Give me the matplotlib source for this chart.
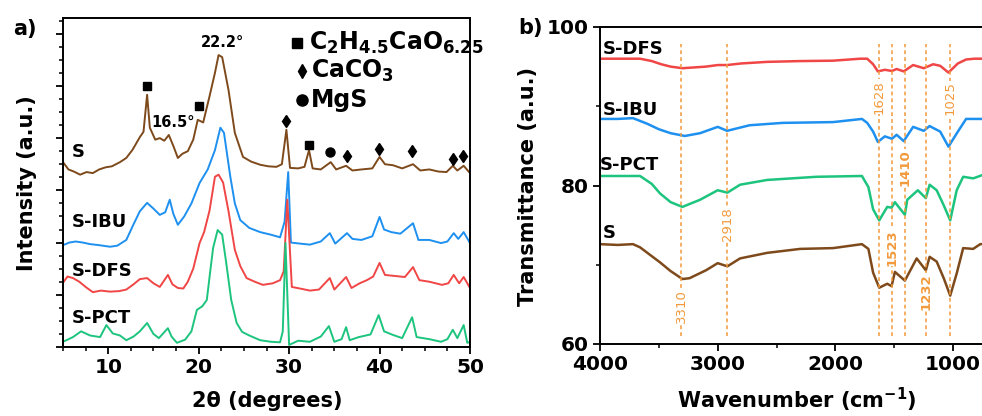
import matplotlib
matplotlib.use("Agg")
import matplotlib.pyplot as plt
from matplotlib.ticker import MultipleLocator

# ---------------- XRD data (2theta in degrees, intensity a.u. offset) ----------------
s_x = [5.0, 5.6, 6.2, 6.9, 7.6, 8.3, 9.0, 9.7, 10.4, 11.3, 12.0, 12.7, 13.5, 13.9, 14.3,
       14.6, 15.2, 15.7, 16.2, 16.7, 17.2, 17.7, 18.2, 18.8, 19.4, 19.9, 20.5, 21.2, 21.8,
       22.2, 22.6, 23.3, 24.0, 24.9, 25.8, 26.8, 27.7, 28.6, 29.2, 29.7, 30.1, 31.0, 31.7,
       32.2, 32.6, 33.5, 34.6, 35.2, 36.3, 37.0, 38.0, 39.2, 40.0, 40.6, 41.5, 42.5, 43.7,
       44.5, 45.5, 46.5, 47.4, 48.1, 48.6, 49.3, 50.0]
s_y = [3.54, 3.40, 3.36, 3.30, 3.35, 3.33, 3.40, 3.44, 3.46, 3.54, 3.62, 3.78, 4.02, 4.12, 4.83,
       4.20, 3.97, 4.00, 3.95, 4.06, 3.85, 3.62, 3.70, 3.75, 3.97, 4.35, 4.30, 4.80, 5.25,
       5.59, 5.55, 4.92, 4.10, 3.64, 3.55, 3.49, 3.46, 3.45, 3.50, 4.16, 3.43, 3.42, 3.45,
       3.77, 3.42, 3.40, 3.54, 3.40, 3.47, 3.38, 3.40, 3.42, 3.64, 3.50, 3.48, 3.42, 3.50,
       3.38, 3.40, 3.36, 3.35, 3.47, 3.38, 3.47, 3.33]

ibu_x = [5.0, 5.7, 6.4, 7.2, 8.0, 9.0, 10.2, 11.0, 12.0, 12.8, 13.5, 14.3, 15.0, 15.7, 16.3,
         16.8, 17.2, 17.7, 18.4, 19.2, 20.1, 21.0, 21.8, 22.4, 22.8, 23.5, 24.0, 24.6, 25.6,
         26.8, 28.0, 29.0, 29.5, 29.9, 30.2, 31.2, 32.3, 33.5, 34.5, 35.1, 36.4, 37.0, 38.0,
         39.2, 40.0, 40.5, 41.3, 42.3, 43.7, 44.3, 45.5, 46.8, 47.5, 48.2, 48.7, 49.3, 50.0]
ibu_y = [1.95, 2.00, 2.02, 2.00, 1.97, 1.95, 1.92, 1.94, 2.05, 2.35, 2.60, 2.76, 2.65, 2.53, 2.58,
         2.82, 2.55, 2.34, 2.50, 2.75, 3.14, 3.40, 3.77, 4.20, 4.10, 3.26, 2.75, 2.43, 2.28,
         2.20, 2.15, 2.10, 2.40, 3.35, 2.00, 1.98, 1.96, 2.02, 2.18, 1.98, 2.18, 2.07, 2.05,
         2.12, 2.49, 2.25, 2.20, 2.17, 2.37, 2.05, 2.05, 1.99, 2.02, 2.18, 2.07, 2.20, 1.99]

dfs_x = [5.0, 5.5, 6.1, 6.8, 7.5, 8.3, 9.2, 10.2, 11.2, 12.0, 12.8, 13.5, 14.3, 15.0, 15.7,
         16.6, 17.1, 17.7, 18.3, 18.8, 19.4, 20.1, 20.6, 21.2, 21.8, 22.2, 22.7, 23.3, 24.0,
         24.6, 25.3, 26.2, 27.1, 28.2, 29.0, 29.4, 29.8, 30.3, 31.2, 32.3, 33.3, 34.5, 35.0,
         36.3, 36.9, 37.8, 38.6, 39.3, 40.0, 40.6, 41.7, 42.8, 43.7, 44.4, 45.5, 46.9, 47.6,
         48.2, 48.8, 49.3, 50.0]
dfs_y = [1.23, 1.35, 1.32, 1.25, 1.15, 1.05, 1.08, 1.06, 1.07, 1.10, 1.20, 1.30, 1.32, 1.22, 1.15,
         1.38, 1.20, 1.13, 1.12, 1.25, 1.50, 1.99, 2.20, 2.61, 3.26, 3.30, 3.15, 2.60, 1.86,
         1.55, 1.32, 1.25, 1.19, 1.22, 1.28, 1.45, 2.82, 1.15, 1.12, 1.08, 1.10, 1.32, 1.10,
         1.34, 1.13, 1.22, 1.28, 1.35, 1.61, 1.38, 1.36, 1.34, 1.53, 1.28, 1.25, 1.19, 1.22,
         1.38, 1.22, 1.34, 1.13]

pct_x = [5.0, 5.5, 6.1, 7.0, 8.0, 9.1, 9.8, 10.5, 11.3, 12.0, 12.8, 13.5, 14.3, 15.0, 15.6,
         16.6, 17.0, 17.6, 18.5, 19.2, 19.8, 20.4, 20.9, 21.3, 21.6, 22.1, 22.6, 23.0, 23.6,
         24.2, 24.8, 25.6, 26.8, 28.0, 29.0, 29.3, 29.6, 30.0, 31.0, 32.3, 33.5, 34.4, 35.0,
         35.8, 36.3, 36.7, 37.7, 39.0, 39.9, 40.5, 41.5, 42.5, 43.6, 44.1, 45.5, 46.8, 47.5,
         48.1, 48.6, 49.3, 49.7, 50.0]
pct_y = [0.10, 0.14, 0.19, 0.30, 0.22, 0.19, 0.42, 0.26, 0.22, 0.13, 0.20, 0.30, 0.46, 0.25, 0.17,
         0.36, 0.20, 0.08, 0.14, 0.30, 0.71, 0.78, 0.90, 1.48, 1.90, 2.24, 2.15, 1.67, 0.90,
         0.46, 0.29, 0.22, 0.13, 0.10, 0.09, 0.30, 1.99, 0.04, 0.12, 0.10, 0.20, 0.40, 0.10,
         0.15, 0.38, 0.13, 0.19, 0.24, 0.61, 0.30, 0.23, 0.17, 0.57, 0.19, 0.15, 0.10, 0.15,
         0.33, 0.17, 0.42, 0.08, 0.10]

# phase markers on the S pattern
sq_x = [14.3, 20.0, 32.2]
sq_y = [5.00, 4.62, 3.87]
dia_x = [29.7, 36.4, 39.9, 43.6, 48.1, 49.2]
dia_y = [4.33, 3.66, 3.79, 3.75, 3.60, 3.66]
circ_x = [34.5]
circ_y = [3.74]

# ---------------- FTIR data (wavenumber cm-1, transmittance) ----------------
ir_dfs_w = [4000, 3850, 3660, 3560, 3480, 3400, 3300, 3200, 3100, 3000, 2920, 2800, 2580,
            2300, 2020, 1790, 1730, 1680, 1640, 1580, 1520, 1480, 1420, 1340, 1250, 1170,
            1110, 1040, 960, 890, 820, 755]
ir_dfs_t = [96.0, 96.0, 96.0, 95.7, 95.3, 95.0, 94.8, 94.9, 95.0, 95.2, 95.2, 95.4, 95.6,
            95.7, 95.75, 96.0, 96.0, 95.3, 94.4, 94.6, 94.45, 94.7, 94.4, 95.2, 94.8, 95.3,
            95.1, 94.25, 95.4, 95.9, 96.0, 96.0]

ir_ibu_w = [4000, 3850, 3720, 3600, 3500, 3400, 3280, 3150, 3000, 2920, 2730, 2450, 2020,
            1775, 1730, 1680, 1640, 1580, 1520, 1480, 1420, 1340, 1250, 1200, 1110, 1040,
            960, 890, 820, 755]
ir_ibu_t = [88.4, 88.4, 88.5, 87.8, 87.1, 86.6, 86.25, 86.6, 87.4, 86.9, 87.6, 87.9, 88.0,
            88.4, 87.9, 86.8, 85.5, 86.2, 85.9, 86.4, 85.6, 87.4, 86.9, 87.5, 86.8, 84.9,
            86.8, 88.4, 88.4, 88.4]

ir_pct_w = [4000, 3850, 3660, 3560, 3490, 3400, 3300, 3150, 3000, 2918, 2810, 2580, 2160,
            1775, 1720, 1680, 1628, 1560, 1523, 1495, 1410, 1390, 1300, 1232, 1200, 1140,
            1080, 1025, 970, 915, 830, 755]
ir_pct_t = [81.2, 81.2, 81.2, 80.2, 79.0, 77.9, 77.3, 78.2, 79.4, 79.1, 80.1, 80.7, 81.1,
            81.2, 79.8, 77.0, 75.6, 77.3, 77.2, 77.9, 76.3, 78.2, 79.4, 78.4, 80.1, 79.4,
            77.5, 75.6, 79.4, 81.1, 80.9, 81.3]

ir_s_w = [4000, 3850, 3720, 3660, 3490, 3400, 3300, 3240, 3100, 3000, 2918, 2810, 2580,
          2300, 2020, 1775, 1720, 1680, 1628, 1560, 1523, 1495, 1410, 1310, 1232, 1200,
          1140, 1080, 1025, 970, 915, 830, 770, 755]
ir_s_t = [72.6, 72.5, 72.6, 72.2, 70.3, 69.2, 68.2, 68.3, 69.3, 70.2, 69.8, 70.8, 71.5,
          72.0, 72.1, 72.6, 72.0, 69.0, 67.1, 67.6, 67.3, 69.1, 68.0, 70.8, 69.3, 71.0,
          70.4, 68.3, 66.1, 68.9, 72.1, 72.0, 72.6, 72.6]

peak_w = [3310, 2918, 1628, 1523, 1410, 1232, 1025]
peak_lbl = ["3310", "2918", "1628", "1523", "1410", "1232", "1025"]
peak_lbl_t = [64.8, 75.1, 91.2, 72.2, 82.3, 66.6, 91.0]
peak_bold = [False, False, False, True, True, True, False]

brown = "#7E4A1C"
blue = "#1E90F0"
red = "#F04646"
green = "#1DC47E"
orange = "#F29A3C"

W, H = 982, 416
fig = plt.figure(figsize=(W / 100, H / 100), dpi=100)


def px_ax(l, t, r, b):
    return fig.add_axes([l / W, 1 - b / H, (r - l) / W, (b - t) / H])


def fpos(x, y):
    return x / W, 1 - y / H


# ---------------- panel a ----------------
ax = px_ax(63, 18, 470, 347)
for xs, ys, c in [(s_x, s_y, brown), (ibu_x, ibu_y, blue),
                  (dfs_x, dfs_y, red), (pct_x, pct_y, green)]:
    ax.plot(xs, ys, color=c, lw=1.4)
ax.plot(sq_x, sq_y, "s", color="black", ms=6)
ax.plot(dia_x, dia_y, "d", color="black", ms=6.5)
ax.plot(circ_x, circ_y, "o", color="black", ms=6.5)
ax.set_xlim(5, 50)
ax.set_ylim(0, 6.3)
ax.xaxis.set_major_locator(MultipleLocator(10))
ax.xaxis.set_minor_locator(MultipleLocator(2.5))
ax.yaxis.set_major_locator(MultipleLocator(1))
ax.yaxis.set_minor_locator(MultipleLocator(0.25))
ax.set_yticklabels([])
ax.tick_params(axis="both", which="major", direction="out", length=5, width=1.3,
               labelsize=14.5, pad=3)
ax.tick_params(axis="both", which="minor", direction="out", length=3, width=1.1)
for lab in ax.get_xticklabels():
    lab.set_fontweight("bold")
for sp in ax.spines.values():
    sp.set_linewidth(1.4)

ax.text(22.6, 5.84, "22.2°", ha="center", va="center", fontsize=10.5, fontweight="bold")
ax.text(17.2, 4.29, "16.5°", ha="center", va="center", fontsize=10.5, fontweight="bold")
lbl_kw = dict(fontsize=13, fontweight="bold", va="center", ha="left")
ax.text(6.0, 3.73, "S", **lbl_kw)
ax.text(6.0, 2.4, "S-IBU", **lbl_kw)
ax.text(6.0, 1.46, "S-DFS", **lbl_kw)
ax.text(6.0, 0.56, "S-PCT", **lbl_kw)

# key in the top right corner (not a framed legend)
ax.plot([0.576], [0.925], "s", color="black", ms=7, transform=ax.transAxes)
ax.plot([0.587], [0.84], "d", color="black", ms=7, transform=ax.transAxes)
ax.plot([0.587], [0.752], "o", color="black", ms=8, transform=ax.transAxes)
ax.text(0.605, 0.925, r"$\mathbf{C_2H_{4.5}CaO_{6.25}}$", transform=ax.transAxes,
        fontsize=17, va="center", ha="left")
ax.text(0.61, 0.84, r"$\mathbf{CaCO_3}$", transform=ax.transAxes,
        fontsize=17, va="center", ha="left")
ax.text(0.61, 0.752, "MgS", transform=ax.transAxes, fontsize=17,
        fontweight="bold", va="center", ha="left")

fig.text(*fpos(27, 183), "Intensity (a.u.)", rotation=90, ha="center", va="center",
         fontsize=15, fontweight="bold")
fig.text(*fpos(267, 401), "2θ (degrees)", ha="center", va="center",
         fontsize=15, fontweight="bold")
fig.text(*fpos(25, 29), "a)", ha="center", va="center", fontsize=15, fontweight="bold")

# ---------------- panel b ----------------
bx = px_ax(600, 27, 982, 344)
for ws, ts, c in [(ir_dfs_w, ir_dfs_t, red), (ir_ibu_w, ir_ibu_t, blue),
                  (ir_pct_w, ir_pct_t, green), (ir_s_w, ir_s_t, brown)]:
    bx.plot(ws, ts, color=c, lw=1.8)
for w, lbl, ty, bold in zip(peak_w, peak_lbl, peak_lbl_t, peak_bold):
    bx.plot([w, w], [61.0, 97.8], ls=(0, (2.5, 2)), color=orange, lw=1.1)
    bx.text(w, ty, lbl, rotation=90, ha="center", va="center", color=orange,
            fontsize=9.5, fontweight="bold" if bold else "normal",
            bbox=dict(facecolor="white", edgecolor="none", pad=0.3))
bx.set_xlim(4000, 755)
bx.set_ylim(60, 100)
bx.xaxis.set_major_locator(MultipleLocator(1000))
bx.xaxis.set_minor_locator(MultipleLocator(500))
bx.yaxis.set_major_locator(MultipleLocator(20))
bx.yaxis.set_minor_locator(MultipleLocator(10))
bx.tick_params(axis="both", which="major", direction="out", length=5, width=1.3,
               labelsize=14.5, pad=3)
bx.tick_params(axis="both", which="minor", direction="out", length=3, width=1.1)
for lab in bx.get_xticklabels() + bx.get_yticklabels():
    lab.set_fontweight("bold")
for sp in bx.spines.values():
    sp.set_linewidth(1.4)
bx.spines["right"].set_visible(False)

lbl_kw_b = dict(fontsize=13, fontweight="bold", va="center", ha="left")
bx.text(3980, 97.2, "S-DFS", **lbl_kw_b)
bx.text(3980, 89.5, "S-IBU", **lbl_kw_b)
bx.text(4000, 82.6, "S-PCT", **lbl_kw_b)
bx.text(3980, 74.0, "S", **lbl_kw_b)

fig.text(*fpos(528, 186), "Transmittance (a.u.)", rotation=90, ha="center", va="center",
         fontsize=15, fontweight="bold")
fig.text(*fpos(797, 400), "Wavenumber (cm$^{\\mathbf{-1}}$)", ha="center", va="center",
         fontsize=15, fontweight="bold")
fig.text(*fpos(530, 28), "b)", ha="center", va="center", fontsize=15, fontweight="bold")

fig.savefig("out.png", dpi=100)
